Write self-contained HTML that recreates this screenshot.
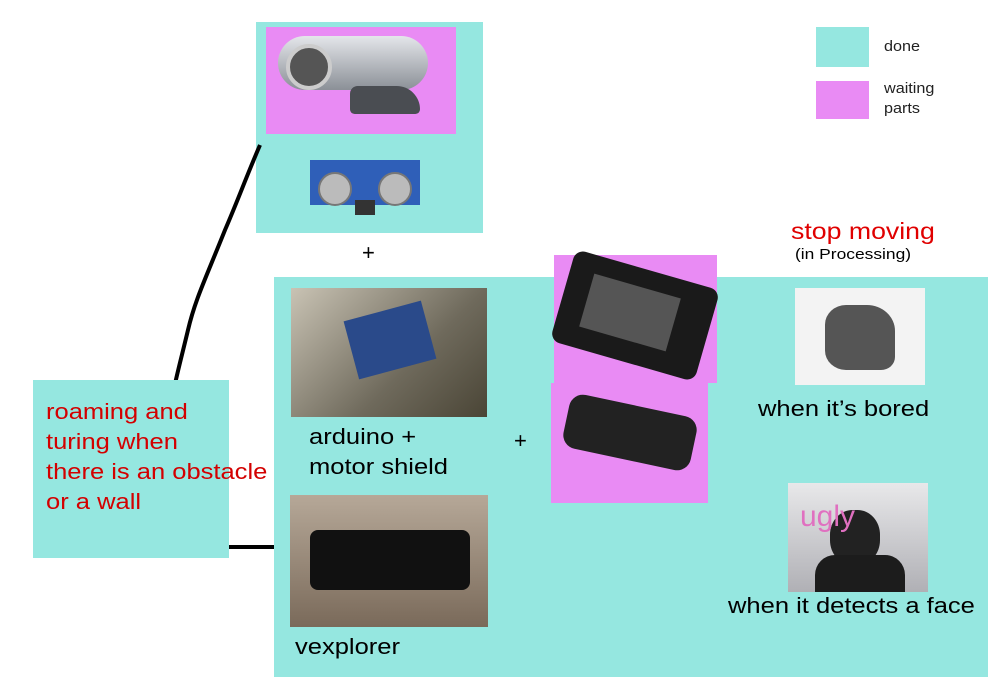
<!DOCTYPE html>
<html><head><meta charset="utf-8"><style>
body{margin:0;width:1000px;height:700px;background:#fff;position:relative;overflow:hidden;font-family:"Liberation Sans",sans-serif}
div{position:absolute}
.t{background:#95e7e0}
.p{background:#e98bf4}
.txt{white-space:nowrap}
.w{transform:scaleX(1.16);transform-origin:0 0}
</style></head><body>
<div class="t" style="left:816px;top:27px;width:53px;height:40px"></div>
<div class="p" style="left:816px;top:81px;width:53px;height:38px"></div>
<div class="txt" style="left:884px;top:38px;font-size:15px;color:#222;transform:scaleX(1.08);transform-origin:0 0">done</div>
<div style="left:884px;top:79px;font-size:15px;color:#222;line-height:20px;transform:scaleX(1.08);transform-origin:0 0">waiting<br>parts</div>

<div class="t" style="left:256px;top:22px;width:227px;height:211px"></div>
<div class="p" style="left:266px;top:27px;width:190px;height:107px"></div>
<div style="left:278px;top:36px;width:150px;height:54px;border-radius:27px;background:linear-gradient(#e4e6ea,#8b9097);"></div>
<div style="left:286px;top:44px;width:38px;height:38px;border-radius:50%;background:#555;border:4px solid #ccc"></div>
<div style="left:350px;top:86px;width:70px;height:28px;border-radius:10px 30px 6px 6px;background:#4a4d52"></div>
<div style="left:310px;top:160px;width:110px;height:45px;background:#2f5fb8"></div>
<div style="left:318px;top:172px;width:30px;height:30px;border-radius:50%;background:#bbb;border:2px solid #777"></div>
<div style="left:378px;top:172px;width:30px;height:30px;border-radius:50%;background:#bbb;border:2px solid #777"></div>
<div style="left:355px;top:200px;width:20px;height:15px;background:#333"></div>
<div class="txt" style="left:362px;top:240px;font-size:22px">+</div>

<svg style="position:absolute;left:0;top:0" width="1000" height="700">
<path d="M260 145 C245 180 238 200 225 230 C205 280 195 300 188 330 C182 355 178 370 175 384" stroke="#000" stroke-width="4" fill="none"/>
<path d="M229 547 L275 547" stroke="#000" stroke-width="4"/>
</svg>

<div class="t" style="left:33px;top:380px;width:196px;height:178px"></div>
<div class="w" style="left:46px;top:397px;font-size:22px;line-height:30px;color:#d30000;white-space:nowrap">roaming and<br>turing when<br>there is an obstacle<br>or a wall</div>

<div class="t" style="left:274px;top:277px;width:714px;height:400px"></div>
<div class="p" style="left:554px;top:255px;width:163px;height:128px"></div>
<div class="p" style="left:551px;top:383px;width:157px;height:120px"></div>
<div style="left:560px;top:268px;width:150px;height:95px;background:#1a1a1a;border-radius:10px;transform:rotate(16deg)"></div>
<div style="left:585px;top:285px;width:90px;height:55px;background:#555;transform:rotate(16deg)"></div>
<div style="left:565px;top:405px;width:130px;height:55px;background:#222;border-radius:14px;transform:rotate(12deg)"></div>

<div style="left:291px;top:288px;width:196px;height:129px;background:linear-gradient(135deg,#c9c3b4,#6f6a5c 60%,#4a4536)"></div>
<div style="left:350px;top:310px;width:80px;height:60px;background:#2a4a8a;transform:rotate(-15deg)"></div>
<div style="left:290px;top:495px;width:198px;height:132px;background:linear-gradient(#b6a898,#7a6a5a)"></div>
<div style="left:310px;top:530px;width:160px;height:60px;background:#111;border-radius:8px"></div>
<div style="left:795px;top:288px;width:130px;height:97px;background:#f3f3f3"></div>
<div style="left:825px;top:305px;width:70px;height:65px;background:#555;border-radius:30% 40% 20% 30%"></div>
<div style="left:788px;top:483px;width:140px;height:109px;background:linear-gradient(#e8e8ea,#b0b0b5)"></div>
<div style="left:830px;top:510px;width:50px;height:55px;background:#222;border-radius:45%"></div>
<div style="left:815px;top:555px;width:90px;height:37px;background:#1c1c1c;border-radius:20px 20px 0 0"></div>
<div class="txt" style="left:800px;top:500px;font-size:30px;color:#e070c0">ugly</div>

<div class="w" style="left:309px;top:422px;font-size:22px;line-height:30px;white-space:nowrap">arduino +<br>motor shield</div>
<div class="txt" style="left:514px;top:428px;font-size:22px">+</div>
<div class="txt w" style="left:295px;top:634px;font-size:22px">vexplorer</div>
<div class="txt w" style="left:791px;top:218px;font-size:23px;color:#e00000">stop moving</div>
<div class="txt w" style="left:795px;top:246px;font-size:15px">(in Processing)</div>
<div class="txt w" style="left:758px;top:396px;font-size:22px">when it’s bored</div>
<div class="txt w" style="left:728px;top:593px;font-size:22px">when it detects a face</div>
</body></html>
